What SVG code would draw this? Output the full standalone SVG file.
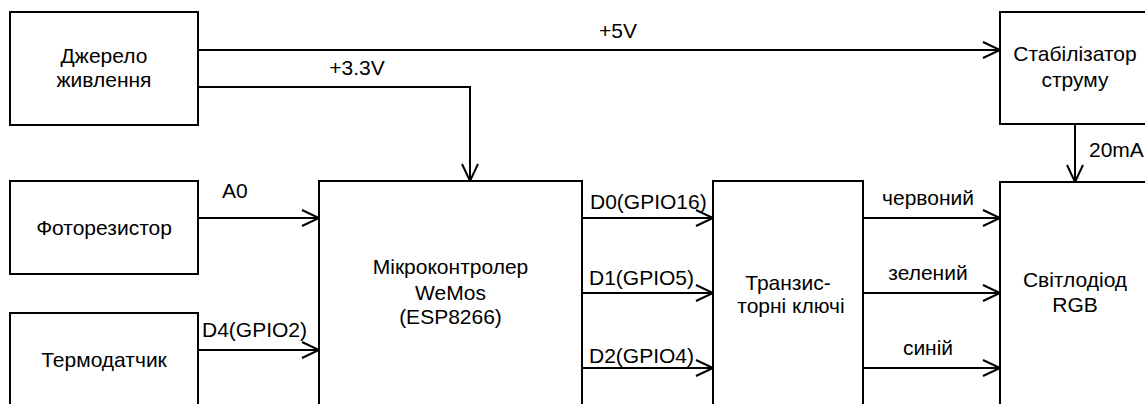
<svg xmlns="http://www.w3.org/2000/svg" width="1145" height="404" viewBox="0 0 1145 404">
<style>
.box{fill:#fff;stroke:#000;stroke-width:2}
.ln{fill:none;stroke:#000;stroke-width:2}
text{font-family:"Liberation Sans",Arial,sans-serif;font-size:21px;fill:#000}
.c{text-anchor:middle}
</style>
<defs>
<marker id="arr" markerUnits="userSpaceOnUse" markerWidth="20" markerHeight="20" refX="17" refY="8" orient="auto" overflow="visible">
<path d="M0,0 L17,8 L0,16" fill="none" stroke="#000" stroke-width="2"/>
</marker>
</defs>
<rect width="1145" height="404" fill="#fff"/>
<g id="connectors">
<path class="ln" d="M198,50 H1000" marker-end="url(#arr)"/>
<path class="ln" d="M198,87 H470 V181" marker-end="url(#arr)"/>
<path class="ln" d="M1075,124 V182" marker-end="url(#arr)"/>
<path class="ln" d="M198,218 H319" marker-end="url(#arr)"/>
<path class="ln" d="M198,350 H319" marker-end="url(#arr)"/>
<path class="ln" d="M582,218 H713" marker-end="url(#arr)"/>
<path class="ln" d="M582,293 H713" marker-end="url(#arr)"/>
<path class="ln" d="M582,368 H713" marker-end="url(#arr)"/>
<path class="ln" d="M863,218 H1000" marker-end="url(#arr)"/>
<path class="ln" d="M863,293 H1000" marker-end="url(#arr)"/>
<path class="ln" d="M863,368 H1000" marker-end="url(#arr)"/>
<text class="c" x="618" y="38">+5V</text>
<text class="c" x="357" y="75">+3.3V</text>
<text x="1089" y="157">20mA</text>
<text x="222" y="198">A0</text>
<text x="202" y="337">D4(GPIO2)</text>
<text x="590" y="209">D0(GPIO16)</text>
<text x="589" y="285">D1(GPIO5)</text>
<text x="589" y="363">D2(GPIO4)</text>
<text class="c" x="928" y="205">червоний</text>
<text class="c" x="928" y="280">зелений</text>
<text class="c" x="928" y="355">синій</text>
</g>
<g id="power">
<rect class="box" x="10" y="12" width="188" height="113"/>
<text class="c" x="104" y="63">Джерело</text>
<text class="c" x="104" y="87">живлення</text>
</g>
<g id="stabilizer">
<rect class="box" x="1000" y="12" width="155" height="112"/>
<text class="c" x="1075" y="61">Стабілізатор</text>
<text class="c" x="1075" y="87">струму</text>
</g>
<g id="photoresistor">
<rect class="box" x="10" y="181" width="188" height="93"/>
<text class="c" x="104" y="235">Фоторезистор</text>
</g>
<g id="thermosensor">
<rect class="box" x="10" y="313" width="188" height="120"/>
<text class="c" x="104" y="367">Термодатчик</text>
</g>
<g id="mcu">
<rect class="box" x="319" y="181" width="263" height="250"/>
<text class="c" x="450.5" y="274">Мікроконтролер</text>
<text class="c" x="450.5" y="300">WeMos</text>
<text class="c" x="450.5" y="324">(ESP8266)</text>
</g>
<g id="transistors">
<rect class="box" x="713" y="181" width="150" height="250"/>
<text class="c" x="788" y="290">Транзис-</text>
<text class="c" x="791" y="313">торні ключі</text>
</g>
<g id="led">
<rect class="box" x="1000" y="182" width="155" height="250"/>
<text class="c" x="1075" y="287">Світлодіод</text>
<text class="c" x="1075" y="312">RGB</text>
</g>
</svg>
